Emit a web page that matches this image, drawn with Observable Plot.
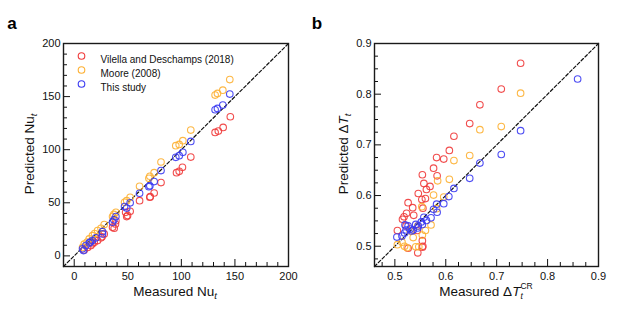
<!DOCTYPE html>
<html>
<head>
<meta charset="utf-8">
<script src="https://cdn.jsdelivr.net/npm/d3@7"></script>
<script src="https://cdn.jsdelivr.net/npm/@observablehq/plot@0.6"></script>
<style>
  html, body { margin: 0; padding: 0; background: #fff; }
  #root { position: relative; width: 623px; height: 314px; overflow: hidden; font-family: "Liberation Sans", Arial, Helvetica, sans-serif; }
  .panel { position: absolute; top: 0; }
</style>
</head>
<body>
<div id="root"></div>
<script>
// ---------- DATA ----------
const seriesNames = ["Vilella and Deschamps (2018)", "Moore (2008)", "This study"];

// Panel a: Nu_t
const aMeasuredVilella = [145.7,139,134.5,131.5,108.8,101,98,95.5,81,74.6,70.9,70.6,61,52.2,48,49.8,49,38.9,38.5,35.8,37.3,28,25,26,21.8,18.7,17,15.5,12.4,9.3];
const aPredictedVilella = [131,121,117.5,116.3,93,83.4,79.6,78.4,69,59.2,55.8,55.2,52,42,41,38,37,33,30,27,26,20.7,17,18,14.4,12.9,11.5,9.7,8,5.6];
const aMeasuredMoore = [145.2,138.7,133.7,131.5,108.8,101.4,98,94.8,81,74.6,70.6,69.7,61,52.2,49,47,38.9,37,35.8,28,25,21.8,19,17,14,12,9.3,7.8];
const aPredictedMoore = [166,156,153,151.4,118.5,108.5,105,103.8,88.4,78.4,75,73,65.5,55.2,52,50.5,41,39,37,29.5,26,23.8,21,19,16,13,11,8];
const aMeasuredStudy = [145.2,138.7,133.7,131.5,108.8,101.4,98,94.8,81,74.6,70.6,69.7,61,52.2,49,47,38.9,37,35.8,26.4,26.4,20.2,17,15,14,10.9,7.8,8.7];
const aPredictedStudy = [152.4,142,138.9,137.6,107.8,97.5,94.4,92.8,80.3,70,66,65.2,59,50,45,46.4,37,34,31.7,22.9,20.7,17,14.4,13,12.2,9.7,6.6,5];

// Panel b: Delta T_t
const bMeasuredVilella = [0.747,0.709,0.667,0.647,0.616,0.607,0.596,0.582,0.576,0.583,0.554,0.557,0.569,0.562,0.546,0.560,0.553,0.526,0.535,0.555,0.523,0.537,0.518,0.515,0.522,0.505,0.544,0.554,0.555,0.554,0.545,0.526];
const bPredictedVilella = [0.861,0.810,0.779,0.742,0.717,0.689,0.672,0.675,0.654,0.639,0.641,0.624,0.618,0.612,0.604,0.594,0.592,0.586,0.576,0.575,0.565,0.561,0.558,0.553,0.540,0.531,0.531,0.511,0.500,0.498,0.487,0.496];
const bMeasuredMoore = [0.747,0.709,0.667,0.647,0.616,0.607,0.584,0.596,0.576,0.582,0.553,0.571,0.560,0.554,0.536,0.514,0.519,0.505,0.541,0.547,0.524,0.530,0.545];
const bPredictedMoore = [0.802,0.736,0.730,0.679,0.669,0.632,0.629,0.597,0.601,0.574,0.578,0.542,0.531,0.522,0.517,0.508,0.500,0.503,0.499,0.499,0.497,0.530,0.540];
const bMeasuredStudy = [0.859,0.747,0.709,0.667,0.647,0.616,0.606,0.596,0.582,0.583,0.576,0.571,0.562,0.557,0.554,0.552,0.546,0.541,0.536,0.530,0.526,0.522,0.520,0.519,0.514,0.504,0.533,0.545];
const bPredictedStudy = [0.830,0.728,0.681,0.664,0.634,0.614,0.598,0.584,0.583,0.567,0.573,0.556,0.551,0.557,0.543,0.548,0.540,0.543,0.532,0.534,0.540,0.532,0.542,0.526,0.520,0.518,0.530,0.536];

// Axes
const aDomain = [-10, 200];
const aMajorTicks = [0, 50, 100, 150, 200];
const aTickLabels = ["0", "50", "100", "150", "200"];
const aMinorTicks = [10,20,30,40,60,70,80,90,110,120,130,140,160,170,180,190];
const bDomain = [0.46, 0.9];
const bMajorTicks = [0.5, 0.6, 0.7, 0.8, 0.9];
const bTickLabels = ["0.5", "0.6", "0.7", "0.8", "0.9"];
const bMinorTicks = [0.475,0.525,0.55,0.575,0.625,0.65,0.675,0.725,0.75,0.775,0.825,0.85,0.875];

// ---------- STYLE ----------
const colors = ["#f03a3a", "#fdb032", "#3a3af2"];
const FONT = "'Liberation Sans', Arial, Helvetica, sans-serif";

function makePanel(opts) {
  const {width, height, margin, domain, majorTicks, tickLabels, minorTicks, series, legend} = opts;
  const innerW = width - margin.left - margin.right;
  const innerH = height - margin.top - margin.bottom;
  const fmt = (d) => tickLabels[majorTicks.indexOf(d)];
  const marks = [
    Plot.line(domain, {x: d => d, y: d => d, stroke: "#111", strokeWidth: 1.2, strokeDasharray: "3.2,2.2"}),
    ...series.map((s, i) => Plot.dot(s.x.map((x, j) => ({x, y: s.y[j]})), {
      x: "x", y: "y", r: 3.3, stroke: colors[i], strokeWidth: 1.1, strokeOpacity: 0.9, fill: "none"
    })),
    // inward ticks
    Plot.tickX(majorTicks, {x: d => d, insetTop: innerH - 7, stroke: "#111", strokeWidth: 1}),
    Plot.tickX(minorTicks, {x: d => d, insetTop: innerH - 4, stroke: "#111", strokeWidth: 1}),
    Plot.tickY(majorTicks, {y: d => d, insetRight: innerW - 7, stroke: "#111", strokeWidth: 1}),
    Plot.tickY(minorTicks, {y: d => d, insetRight: innerW - 4, stroke: "#111", strokeWidth: 1}),
    Plot.axisX({ticks: majorTicks, tickFormat: fmt, tickSize: 0, tickPadding: 6, label: null, fontSize: 11}),
    Plot.axisY({ticks: majorTicks, tickFormat: fmt, tickSize: 0, tickPadding: 3, label: null, fontSize: 11}),
    Plot.frame({stroke: "#1a1a1a", strokeWidth: 1.4})
  ];
  if (legend) {
    seriesNames.forEach((name, i) => {
      marks.push(Plot.dot([name], {frameAnchor: "top-left", dx: 18, dy: 12.5 + 14 * i, r: 3.3, stroke: colors[i], strokeWidth: 1.1, fill: "none"}));
      marks.push(Plot.text([name], {frameAnchor: "top-left", dx: 37, dy: 12.5 + 14 * i, text: d => d, textAnchor: "start", fontSize: 10, fill: "#111"}));
    });
  }
  return Plot.plot({
    width, height,
    marginTop: margin.top, marginRight: margin.right, marginBottom: margin.bottom, marginLeft: margin.left,
    x: {domain, nice: false},
    y: {domain, nice: false},
    style: {fontFamily: FONT, fontSize: "11px", color: "#111", background: "transparent", overflow: "visible"},
    marks
  });
}

const root = document.getElementById("root");

// Panel a
const pa = makePanel({
  width: 310, height: 314,
  margin: {top: 43, right: 22, bottom: 48, left: 63},
  domain: aDomain, majorTicks: aMajorTicks, tickLabels: aTickLabels, minorTicks: aMinorTicks,
  series: [
    {x: aMeasuredVilella, y: aPredictedVilella},
    {x: aMeasuredMoore, y: aPredictedMoore},
    {x: aMeasuredStudy, y: aPredictedStudy}
  ],
  legend: true
});
const da = document.createElement("div"); da.className = "panel"; da.style.left = "0px"; da.appendChild(pa); root.appendChild(da);

// Panel b
const pb = makePanel({
  width: 313, height: 314,
  margin: {top: 43, right: 25, bottom: 48, left: 64},
  domain: bDomain, majorTicks: bMajorTicks, tickLabels: bTickLabels, minorTicks: bMinorTicks,
  series: [
    {x: bMeasuredVilella, y: bPredictedVilella},
    {x: bMeasuredMoore, y: bPredictedMoore},
    {x: bMeasuredStudy, y: bPredictedStudy}
  ],
  legend: false
});
const db = document.createElement("div"); db.className = "panel"; db.style.left = "310px"; db.appendChild(pb); root.appendChild(db);

// ---------- Titles (real text) ----------
function addText(svg, build) {
  const s = d3.select(svg);
  build(s);
}
const titleSize = 13.5;
// Panel a
addText(pa, s => {
  s.append("text").attr("x", 12).attr("y", 29).attr("font-size", 17).attr("font-weight", "bold").attr("font-family", FONT).attr("fill", "#000").text("a");
  const xt = s.append("text").attr("x", 175).attr("y", 296).attr("text-anchor", "middle").attr("font-size", titleSize).attr("font-family", FONT).attr("fill", "#111");
  xt.append("tspan").text("Measured Nu");
  xt.append("tspan").attr("font-style", "italic").attr("font-size", 9.5).attr("dy", 3).text("t");
  const yt = s.append("text").attr("transform", "translate(34,154) rotate(-90)").attr("text-anchor", "middle").attr("font-size", titleSize).attr("font-family", FONT).attr("fill", "#111");
  yt.append("tspan").text("Predicted Nu");
  yt.append("tspan").attr("font-style", "italic").attr("font-size", 9.5).attr("dy", 3).text("t");
});
// Panel b
addText(pb, s => {
  s.append("text").attr("x", 7).attr("y", 29).attr("font-size", 17).attr("font-weight", "bold").attr("font-family", FONT).attr("fill", "#000").text("b");
  const xt = s.append("text").attr("x", 176).attr("y", 296).attr("text-anchor", "middle").attr("font-size", titleSize).attr("font-family", FONT).attr("fill", "#111");
  xt.append("tspan").text("Measured \u0394");
  xt.append("tspan").attr("font-style", "italic").text("T");
  xt.append("tspan").attr("font-style", "italic").attr("font-size", 8.5).attr("dy", 3).text("t");
  xt.append("tspan").attr("font-size", 8.5).attr("dx", -2.4).attr("dy", -10).text("CR");
  const yt = s.append("text").attr("transform", "translate(38,154) rotate(-90)").attr("text-anchor", "middle").attr("font-size", titleSize).attr("font-family", FONT).attr("fill", "#111");
  yt.append("tspan").text("Predicted \u0394");
  yt.append("tspan").attr("font-style", "italic").text("T");
  yt.append("tspan").attr("font-style", "italic").attr("font-size", 9.5).attr("dy", 3).text("t");
});
</script>
</body>
</html>
